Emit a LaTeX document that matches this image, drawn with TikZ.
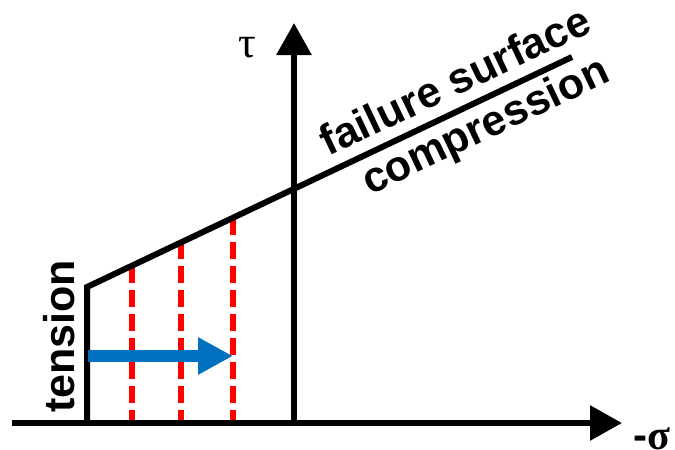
\documentclass[tikz,border=0pt]{standalone}
\usepackage{fontspec}
\setmainfont{Liberation Sans}
\newfontfamily\grk{Liberation Serif}
\usetikzlibrary{arrows.meta}
\definecolor{arrowblue}{HTML}{0070C0}
\definecolor{dashred}{HTML}{FF0000}
\begin{document}
\begin{tikzpicture}[x=1pt,y=-1pt,
  axis/.style={line width=6pt, -{Triangle[length=32pt,width=34pt]}},
  surf/.style={line width=6pt, line join=miter},
  redline/.style={dashred, line width=6.5pt, dash pattern=on 17pt off 7pt},
  lbl/.style={font=\fontsize{43}{50}\selectfont\bfseries, inner sep=0pt},
  sym/.style={font=\grk\fontsize{44}{50}\selectfont, inner sep=0pt},
]
\useasboundingbox (0,0) rectangle (675,450);
% axes
\coordinate (xl) at (12,423);
\coordinate (xr) at (622,423);
\coordinate (o) at (294,423);
\coordinate (yt) at (294,23);
\draw[axis] (xl) -- (xr);
\draw[axis] (o) -- (yt);
% failure surface
\coordinate (s0) at (87,423);
\coordinate (s1) at (87,287);
\coordinate (s2) at (572,57);
% red dashed lines
\coordinate (r1t) at (132,265.7);
\coordinate (r1b) at (132,420);
\coordinate (r2t) at (181,242.4);
\coordinate (r2b) at (181,420);
\coordinate (r3t) at (233,217.8);
\coordinate (r3b) at (233,420);
\draw[redline] (r1t) -- (r1b);
\draw[redline] (r2t) -- (r2b);
\draw[redline] (r3t) -- (r3b);
\draw[surf] (s0) -- (s1) -- (s2);
% blue arrow
\coordinate (b0) at (88,356);
\coordinate (b1) at (233,356);
\draw[arrowblue, line width=12pt, -{Triangle[length=35pt,width=35pt]}] (b0) -- (b1);
% labels
\node[lbl, rotate=25.37, anchor=base] (fs) at (461,94) {failure surface};
\node[lbl, rotate=25.37, anchor=base] (cp) at (491,138) {compression};
\node[lbl, rotate=90, anchor=base] (tn) at (74,336.5) {tension};
\node[sym] (tau) at (247,48) {τ};
\node[inner sep=0pt, anchor=base, font=\fontsize{42}{50}\selectfont] (sig) at (652,449) {{\bfseries -}{\grk\bfseries σ}};
\end{tikzpicture}
\end{document}
